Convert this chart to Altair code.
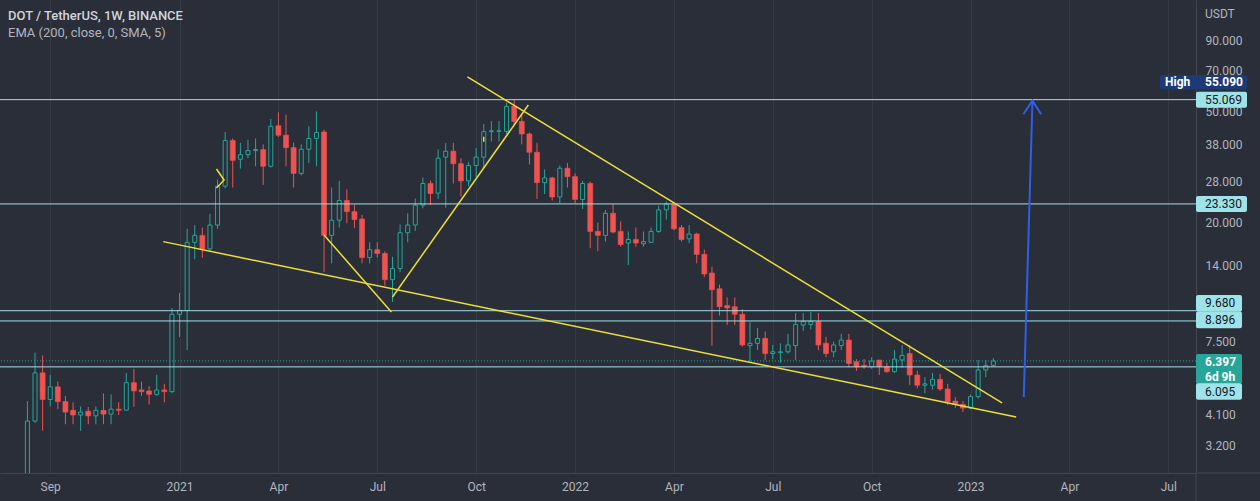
import altair as alt
import pandas as pd

# ---------------- data ----------------
first_week = "2020-08-17"   # weekly bars, DOT/USDT Binance
opens = [
    2.3, 3.9, 5.8, 4.66, 5.17, 4.58, 4.26, 4.1, 4.23, 4.07,
    4.26, 4.13, 4.3, 4.27, 5.35, 5.04, 5.0, 4.86, 5.04, 4.97,
    9.4, 9.7, 17.0, 18.0, 16.1, 19.6, 27.0, 39.3, 33.7, 35.0,
    36.2, 36.5, 31.8, 44.4, 41.1, 37.1, 30.0, 36.6, 40.0, 42.2,
    18.0, 20.4, 24.0, 21.9, 20.6, 15.0, 16.0, 15.5, 12.5, 13.7,
    18.4, 19.6, 23.1, 27.6, 25.5, 34.3, 36.0, 32.5, 28.2, 32.0,
    34.3, 42.3, 42.4, 42.4, 52.1, 46.0, 41.5, 35.7, 27.8, 28.9,
    24.7, 31.3, 29.2, 24.2, 27.6, 18.6, 18.0, 21.6, 18.6, 16.9,
    17.4, 16.8, 17.0, 18.6, 22.2, 23.3, 19.2, 17.5, 18.2, 15.4,
    13.2, 11.6, 10.1, 10.0, 9.4, 7.26, 7.4, 7.7, 6.8, 6.85,
    6.9, 7.26, 8.6, 8.65, 8.85, 7.4, 6.9, 7.26, 7.6, 6.36,
    6.17, 6.1, 6.45, 6.1, 5.86, 6.45, 6.8, 5.7, 5.24, 5.24,
    5.5, 5.08, 4.6, 4.47, 4.34, 4.77, 5.94, 6.17,
]
highs = [
    4.6, 6.85, 6.7, 5.7, 5.4, 4.8, 4.55, 4.4, 4.38, 4.4,
    4.9, 4.86, 4.55, 5.8, 6.0, 5.4, 5.2, 5.7, 5.3, 9.9,
    11.2, 19.0, 19.6, 19.2, 21.5, 28.5, 42.2, 40.0, 38.6, 39.6,
    40.0, 38.1, 47.0, 49.6, 48.7, 38.6, 38.1, 44.2, 50.0, 43.0,
    26.7, 28.2, 26.3, 23.2, 21.3, 17.0, 17.0, 15.8, 15.1, 19.7,
    21.6, 24.4, 29.0, 28.3, 36.5, 38.5, 38.6, 34.0, 33.0, 37.0,
    45.0, 46.2, 46.2, 53.6, 55.09, 49.0, 42.0, 38.6, 31.0, 29.2,
    32.0, 32.7, 30.0, 28.2, 28.0, 20.0, 22.2, 23.3, 20.2, 18.6,
    19.2, 18.6, 19.2, 23.0, 23.8, 23.6, 19.6, 19.6, 18.4, 16.0,
    13.9, 12.0, 10.8, 10.8, 9.8, 8.8, 8.4, 8.15, 7.3, 7.4,
    8.0, 9.5, 9.5, 9.6, 9.5, 7.8, 7.5, 8.0, 8.0, 6.5,
    6.5, 6.6, 6.45, 6.3, 7.0, 7.3, 7.3, 5.9, 5.6, 5.8,
    5.75, 5.3, 4.75, 4.6, 4.85, 6.45, 6.45, 6.55,
]
lows = [
    2.3, 3.85, 3.6, 4.4, 4.3, 3.8, 3.8, 3.6, 3.8, 3.8,
    3.8, 3.8, 4.1, 4.25, 4.38, 4.8, 4.47, 4.8, 4.55, 4.9,
    7.8, 7.0, 14.8, 15.0, 15.8, 19.0, 26.5, 26.7, 31.2, 34.0,
    31.8, 27.3, 31.5, 40.5, 31.8, 26.7, 29.5, 32.7, 31.8, 13.3,
    14.3, 19.2, 19.9, 19.1, 14.3, 14.3, 15.0, 11.9, 10.4, 13.3,
    17.0, 18.7, 22.5, 23.1, 24.3, 22.6, 27.6, 24.8, 27.0, 29.1,
    31.4, 39.0, 39.0, 41.5, 44.5, 38.1, 32.3, 24.3, 25.3, 24.0,
    23.5, 26.7, 23.5, 22.4, 16.2, 15.8, 17.1, 18.3, 16.4, 14.1,
    16.4, 16.4, 16.9, 18.4, 20.5, 18.8, 17.1, 16.9, 14.3, 12.8,
    7.25, 9.3, 8.6, 8.6, 7.2, 6.36, 7.0, 6.45, 6.5, 6.3,
    6.8, 6.45, 8.2, 8.3, 7.0, 6.6, 6.6, 7.0, 6.1, 5.9,
    6.0, 6.0, 5.7, 5.8, 5.8, 6.05, 5.25, 5.1, 4.9, 5.05,
    5.0, 4.45, 4.35, 4.2, 4.3, 4.7, 5.6, 6.1,
]
closes = [
    3.9, 5.8, 4.66, 5.17, 4.58, 4.2, 4.1, 4.2, 4.07, 4.26,
    4.13, 4.3, 4.26, 5.35, 5.0, 4.97, 4.86, 5.04, 4.97, 9.4,
    9.7, 17.0, 18.0, 16.1, 19.6, 27.0, 39.3, 33.4, 35.0, 36.2,
    36.5, 31.8, 44.2, 41.1, 37.1, 30.0, 36.6, 40.0, 42.0, 18.0,
    20.4, 24.0, 21.9, 20.5, 15.0, 16.0, 15.5, 12.5, 13.7, 18.4,
    19.6, 23.1, 27.6, 25.4, 34.0, 36.0, 32.5, 28.2, 32.0, 34.3,
    42.3, 42.6, 42.6, 52.1, 46.0, 41.5, 35.7, 27.8, 28.9, 24.7,
    31.3, 29.2, 24.2, 27.6, 18.6, 18.0, 21.6, 18.5, 16.7, 17.4,
    16.9, 17.1, 18.6, 22.2, 23.3, 19.0, 17.4, 18.2, 15.4, 13.1,
    11.5, 10.0, 9.9, 9.4, 7.3, 7.4, 7.7, 6.8, 6.9, 6.9,
    7.3, 8.65, 8.85, 8.85, 7.3, 6.8, 7.3, 7.6, 6.27, 6.1,
    6.1, 6.4, 6.1, 5.86, 6.5, 6.7, 5.7, 5.24, 5.3, 5.5,
    5.08, 4.57, 4.47, 4.34, 4.77, 5.94, 6.16, 6.397,
]

levels = [55.069, 23.33, 9.68, 8.896, 6.095]     # horizontal lines
last_price = 6.397
high_price = 55.09
price_ticks = [3.2, 4.1, 7.5, 14, 20, 28, 38, 50, 70, 90]
month_ticks = [(2020, 9, 7), (2021, 1, 4), (2021, 4, 5), (2021, 7, 5), (2021, 10, 4),
               (2022, 1, 3), (2022, 4, 4), (2022, 7, 4), (2022, 10, 3), (2023, 1, 2),
               (2023, 4, 3), (2023, 7, 3)]

trend_lines = {
    "lower":   [("2020-12-20", 17.1), ("2023-02-13", 4.03)],
    "drop":    [("2021-05-17", 18.05), ("2021-07-18", 9.58)],
    "rise":    [("2021-07-19", 10.84), ("2021-11-21", 52.7)],
    "upper":   [("2021-09-26", 66.4), ("2023-01-31", 4.53)],
    "chevron": [("2021-02-07", 31.1), ("2021-02-14", 28.4), ("2021-02-07", 26.6)],
    "tick":    [("2021-10-11", 40.6), ("2021-10-11", 38.9)],
}
arrow = {
    "shaft": [("2023-02-20", 4.75), ("2023-02-28", 54.6)],
    "head":  [("2023-02-19T14:00:00Z", 48.8), ("2023-02-28", 54.6), ("2023-03-08", 48.8)],
}

# ---------------- style ----------------
BG = "#2a2e39"
GRID = "#363a45"
SEP = "#434651"
GREEN = "#26a69a"
RED = "#ef5350"
YELLOW = "#ecdf3a"
CYAN = "#9ee2ea"
BLUE = "#2f5fe6"
NAVY = "#1c3a78"
AXIS_TXT = "#b2b5be"
FONT = "Roboto"

W, H = 1196, 473
px_per_day = 7.67 / 7
ref = pd.Timestamp("2021-01-04")
t0 = ref - pd.Timedelta(days=176 / px_per_day)
t1 = ref + pd.Timedelta(days=(W - 176) / px_per_day)
ms = lambda t: int(t.timestamp() * 1000)

xscale = alt.Scale(type="utc", domain=[ms(t0), ms(t1)], nice=False)
yscale = alt.Scale(type="log", domain=[2.5427, 125.13], nice=False, zero=False)

xaxis = alt.Axis(
    values=[alt.DateTime(year=y, month=m, date=d, utc=True) for y, m, d in month_ticks],
    labelExpr="utcFormat(datum.value, '%m') == '01' ? utcFormat(datum.value, '%Y') : utcFormat(datum.value, '%b')",
    grid=True, gridColor=GRID, gridWidth=1, ticks=False,
    domain=True, domainColor=SEP, labelColor=AXIS_TXT, labelFont=FONT,
    labelFontSize=12, labelPadding=8, labelFlush=False, labelOverlap=False, title=None,
)
yaxis = alt.Axis(
    orient="right", values=price_ticks, format=".3f", grid=False, ticks=False,
    domain=True, domainColor=SEP, labelColor=AXIS_TXT, labelFont=FONT,
    labelFontSize=12, labelPadding=9, labelOverlap=False, title=None,
)


def X(field):
    return alt.X(field, type="temporal", scale=xscale, axis=xaxis)


def Y(field):
    return alt.Y(field, type="quantitative", scale=yscale, axis=yaxis)


df = pd.DataFrame({
    "date": pd.date_range(first_week, periods=len(opens), freq="7D").strftime("%Y-%m-%d"),
    "open": opens, "high": highs, "low": lows, "close": closes,
})
base = alt.Chart(df)
up = "datum.close >= datum.open"
down = "datum.close < datum.open"

wick_up = base.transform_filter(up).mark_rule(color=GREEN, strokeWidth=1, clip=True).encode(
    x=X("date"), y=Y("low"), y2="high")
wick_dn = base.transform_filter(down).mark_rule(color=RED, strokeWidth=1, clip=True).encode(
    x=X("date"), y=Y("low"), y2="high")
body_up = base.transform_filter(up).mark_bar(
    size=4, fill=BG, stroke=GREEN, strokeWidth=1, clip=True).encode(
    x=X("date"), y=Y("open"), y2="close")
body_dn = base.transform_filter(down).mark_bar(
    size=5, fill=RED, stroke=RED, strokeWidth=0.6, clip=True).encode(
    x=X("date"), y=Y("open"), y2="close")

lv = pd.DataFrame({"level": levels})
level_rules = alt.Chart(lv).mark_rule(color=CYAN, strokeWidth=1).encode(y=Y("level"))
last_rule = alt.Chart(pd.DataFrame({"p": [last_price]})).mark_rule(
    color=GREEN, strokeWidth=1, strokeDash=[1, 2]).encode(y=Y("p"))

rows = []
for name, pts in trend_lines.items():
    for k, (d, p) in enumerate(pts):
        rows.append({"id": name, "k": k, "date": d, "p": p})
tl = alt.Chart(pd.DataFrame(rows)).mark_line(color=YELLOW, strokeWidth=1.5, clip=True).encode(
    x=X("date"), y=Y("p"), detail="id:N", order="k:Q")

rows = []
for name, pts in arrow.items():
    for k, (d, p) in enumerate(pts):
        rows.append({"id": name, "k": k, "date": d, "p": p})
arr = alt.Chart(pd.DataFrame(rows)).mark_line(color=BLUE, strokeWidth=2, clip=True).encode(
    x=X("date"), y=Y("p"), detail="id:N", order="k:Q")

layers = [wick_up, wick_dn, body_up, body_dn, level_rules, last_rule, tl, arr]

# separators extending into the axis gutters
layers.append(alt.Chart(pd.DataFrame({"a": [0]})).mark_rule(color=SEP).encode(
    x=alt.value(W), y=alt.value(H), y2=alt.value(H + 28)))
layers.append(alt.Chart(pd.DataFrame({"a": [0]})).mark_rule(color=SEP).encode(
    x=alt.value(W), x2=alt.value(W + 64), y=alt.value(H)))


def price_label(text, price, fill, txt_color, dy, top, bottom, x0=W, x1=W + 51,
                bold=False, extra=None):
    d = pd.DataFrame({"p": [price], "t": [text]})
    box = alt.Chart(d).mark_rect(fill=fill, yOffset=top, y2Offset=bottom, cornerRadius=2).encode(
        x=alt.value(x0), x2=alt.value(x1), y=Y("p"), y2="p")
    txt = alt.Chart(d).mark_text(align="left", baseline="middle", dy=dy, color=txt_color,
                                 font=FONT, fontSize=12,
                                 fontWeight="bold" if bold else "normal").encode(
        x=alt.value(W + 9), y=Y("p"), text="t:N")
    out = [box, txt]
    if extra:
        for t, edy, ex in extra:
            out.append(alt.Chart(d.assign(t=t)).mark_text(
                align="left", baseline="middle", dy=edy, color=txt_color, font=FONT,
                fontSize=12, fontWeight="bold" if bold else "normal").encode(
                x=alt.value(ex), y=Y("p"), text="t:N"))
    return out


layers += price_label(f"{high_price:.3f}", high_price, NAVY, "#ffffff", -17.2, -24.5, -10,
                      x0=W - 36, bold=True, extra=[("High", -17.2, W - 31)])
layers += price_label(f"{levels[0]:.3f}", levels[0], CYAN, "#131722", 0, -8, 8)
layers += price_label(f"{levels[1]:.3f}", levels[1], CYAN, "#131722", 0, -8, 8)
layers += price_label(f"{levels[2]:.3f}", levels[2], CYAN, "#131722", -7.4, -15.7, 1, x1=W + 46)
layers += price_label(f"{levels[3]:.3f}", levels[3], CYAN, "#131722", -0.5, -9.5, 7.3, x1=W + 46)
layers += price_label(f"{last_price:.3f}", last_price, GREEN, "#ffffff", 1.2, -7, 23, bold=True,
                      x1=W + 46, extra=[("6d 9h", 15.7, W + 9)])
layers += price_label(f"{levels[4]:.3f}", levels[4], CYAN, "#131722", 24.8, 16.5, 33, x1=W + 46)

# header texts
hdr = pd.DataFrame({"t": ["DOT / TetherUS, 1W, BINANCE"]})
layers.append(alt.Chart(hdr).mark_text(align="left", baseline="middle", color="#d1d4dc",
                                       font=FONT, fontSize=13, fontWeight=500).encode(
    x=alt.value(8), y=alt.value(16), text="t:N"))
sub = pd.DataFrame({"t": ["EMA (200, close, 0, SMA, 5)"]})
layers.append(alt.Chart(sub).mark_text(align="left", baseline="middle", color="#b2b5be",
                                       font=FONT, fontSize=13).encode(
    x=alt.value(8), y=alt.value(33), text="t:N"))
cur = pd.DataFrame({"t": ["USDT"]})
layers.append(alt.Chart(cur).mark_text(align="left", baseline="middle", color=AXIS_TXT,
                                       font=FONT, fontSize=12).encode(
    x=alt.value(W + 9), y=alt.value(14), text="t:N"))

chart = alt.layer(*layers).properties(
    width=W, height=H,
    padding={"left": 0, "top": 0, "right": 1260 - W, "bottom": 501 - H},
    autosize=alt.AutoSizeParams(type="none"),
    background=BG,
).configure_view(stroke=None)

chart.save("out.html", embed_options={"renderer": "svg", "actions": False})
